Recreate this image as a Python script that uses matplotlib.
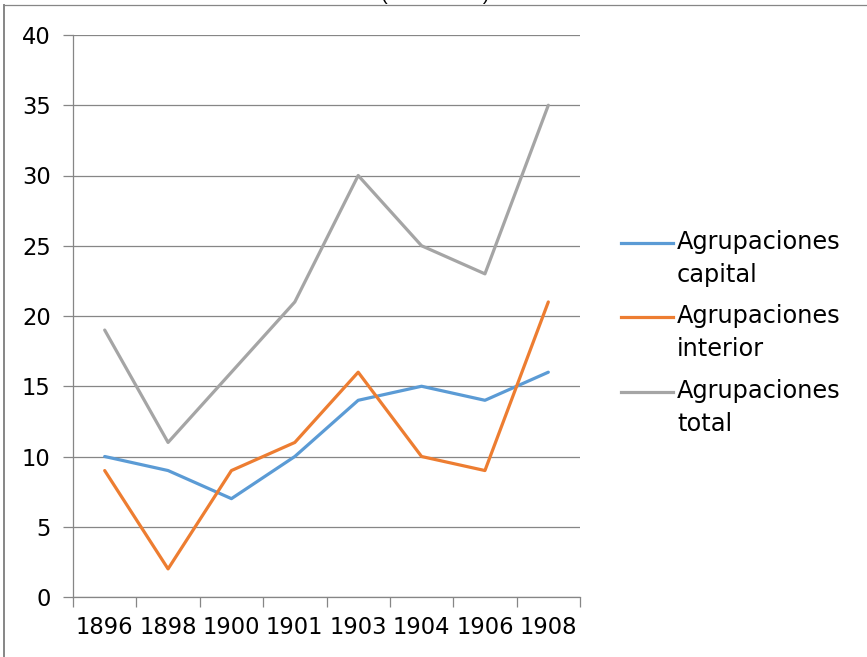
import matplotlib.pyplot as plt
from matplotlib.lines import Line2D

plt.rcParams['font.family'] = ['DejaVu Sans']

years = ['1896', '1898', '1900', '1901', '1903', '1904', '1906', '1908']
capital = [10, 9, 7, 10, 14, 15, 14, 16]
interior = [9, 2, 9, 11, 16, 10, 9, 21]
total = [19, 11, 16, 21, 30, 25, 23, 35]
labels = ['Agrupaciones\ncapital', 'Agrupaciones\ninterior', 'Agrupaciones\ntotal']
colors = ['#5B9BD5', '#ED7D31', '#A5A5A5']

W, H = 867, 657
fs = 16.3
fig = plt.figure(figsize=(W / 100, H / 100), dpi=100)
ax = fig.add_axes([73 / W, 1 - 597 / H, (580 - 73) / W, (597 - 35) / H])

x = list(range(len(years)))
for vals, c in zip([capital, interior, total], colors):
    ax.plot(x, vals, color=c, lw=2.3, solid_capstyle='round', zorder=3)

ax.set_xlim(-0.5, len(years) - 0.5)
ax.set_ylim(0, 40)
ax.set_yticks(range(0, 41, 5))
ax.yaxis.grid(True, color='#868686', lw=0.9)
ax.set_axisbelow(True)

# category ticks sit between the categories
ax.set_xticks([i - 0.5 for i in range(len(years) + 1)])
ax.set_xticklabels([])
ax.set_xticks(x, minor=True)
ax.set_xticklabels(years, minor=True)
ax.tick_params(axis='x', which='major', length=7, color='#868686', width=0.9, direction='out')
ax.tick_params(axis='x', which='minor', length=0, pad=14, labelsize=fs)
ax.tick_params(axis='y', length=7, color='#868686', width=0.9, pad=9, labelsize=fs)

for s in ['top', 'right']:
    ax.spines[s].set_visible(False)
for s in ['left', 'bottom']:
    ax.spines[s].set_color('#868686')
    ax.spines[s].set_linewidth(0.9)

# legend, drawn by hand so the key lines up with the first text line
leg_y = [243, 317, 392]
for lab, c, yy in zip(labels, colors, leg_y):
    fig.add_artist(Line2D([621 / W, 673 / W], [1 - yy / H] * 2, color=c, lw=2.3,
                          transform=fig.transFigure))
    fig.text(677 / W, 1 - (yy - 13) / H, lab, fontsize=17.3, va='top', ha='left',
             linespacing=1.45)

# title, cut off at the top of the image
fig.text(435 / W, 1.0, '(1896-1908)', fontsize=14.5, ha='center', va='baseline',
         family='Liberation Sans')

# outer chart border (only top and left edges fall inside the image)
fig.add_artist(Line2D([4 / W, 1.0], [1 - 5 / H] * 2, color='#868686', lw=0.9,
                      transform=fig.transFigure))
fig.add_artist(Line2D([4 / W] * 2, [0, 1 - 5 / H], color='#868686', lw=1.4,
                      transform=fig.transFigure))

fig.savefig('out.png', dpi=100)
